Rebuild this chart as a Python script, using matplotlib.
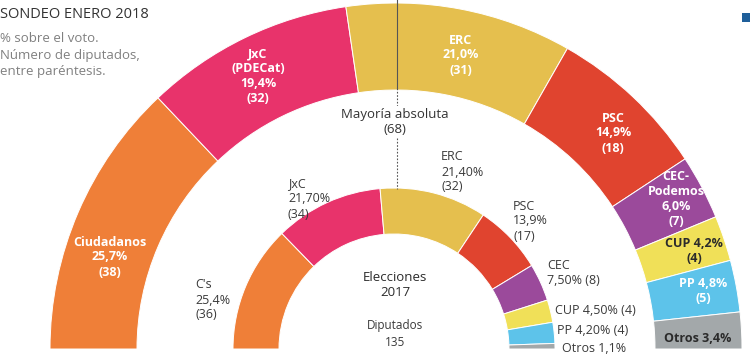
import numpy as np
import matplotlib.pyplot as plt
from matplotlib.patches import Wedge, Rectangle

plt.rcParams['font.family'] = ['Open Sans', 'DejaVu Sans']

# Sondeo enero 2018 (outer ring)
sondeo_partidos = ['Ciudadanos', 'JxC\n(PDECat)', 'ERC', 'PSC', 'CEC-\nPodemos', 'CUP', 'PP', 'Otros']
sondeo_voto = [25.7, 19.4, 21.0, 14.9, 6.0, 4.2, 4.8, 3.4]
sondeo_escanos = [38, 32, 31, 18, 7, 4, 5, None]

# Elecciones 2017 (inner ring)
elec_partidos = ["C's", 'JxC', 'ERC', 'PSC', 'CEC', 'CUP', 'PP', 'Otros']
elec_voto = [25.4, 21.70, 21.40, 13.9, 7.50, 4.50, 4.20, 1.1]
elec_voto_txt = ['25,4%', '21,70%', '21,40%', '13,9%', '7,50%', '4,50%', '4,20%', '1,1%']
elec_escanos = [36, 34, 32, 17, 8, 4, 4, None]

colores = ['#EF7F38', '#E8336B', '#E5BF4E', '#E0442F', '#9B4A9B', '#F0E058', '#5DC3EA', '#A3A8AA']
mayoria = 68
total_diputados = 135

W, H = 755, 356
fig = plt.figure(figsize=(W / 100, H / 100), dpi=100)
ax = fig.add_axes([0, 0, 1, 1])
ax.set_xlim(0, W)
ax.set_ylim(0, H)
ax.axis('off')

def Y(y):
    return H - y

def anillo(cx, cy, r, ancho, valores):
    total = sum(valores)
    acum = 0
    for v, c in zip(valores, colores):
        t2 = 180 - acum / total * 180
        acum += v
        t1 = 180 - acum / total * 180
        ax.add_patch(Wedge((cx, cy), r, t1, t2, width=ancho, facecolor=c,
                           edgecolor='white', linewidth=0.7))

anillo(396, Y(349), 346, 87, sondeo_voto)
anillo(394, Y(349), 161, 46, elec_voto)

# mayoria absoluta line
ax.plot([397, 397], [Y(0), Y(88)], color='#555555', lw=0.8)
ax.plot([397, 397], [Y(88), Y(189)], color='#555555', lw=0.8, ls=(0, (1.5, 1.5)))
ax.text(395, Y(122), f'Mayoría absoluta\n({mayoria})', ha='center', va='center',
        fontsize=9.5, color='#333333', linespacing=1.25,
        bbox=dict(facecolor='white', edgecolor='none', pad=1))

def fmt(v):
    return f'{v:.1f}'.replace('.', ',') + '%'

# outer labels
pos_ext = [(110, 257), (258, 76), (461, 55), (613, 133), (676, 199), (694, 251), (703, 291), (698, 338)]
for i, (nombre, v, e) in enumerate(zip(sondeo_partidos, sondeo_voto, sondeo_escanos)):
    x, y = pos_ext[i]
    col = 'white'
    if nombre in ('CUP', 'PP', 'Otros'):
        txt = f'{nombre} {fmt(v)}'
        if e is not None:
            txt += f'\n({e})'
        if nombre != 'PP':
            col = '#2b2b2b'
    else:
        txt = f'{nombre}\n{fmt(v)}\n({e})'
    ax.text(x, Y(y), txt, ha='center', va='center', fontsize=9, fontweight='bold',
            color=col, linespacing=1.2)

# inner labels
pos_int = [(195, 300), (288, 199), (441, 172), (513, 221), (547, 273), (555, 311), (557, 331), (562, 348)]
for i, (nombre, vt, e) in enumerate(zip(elec_partidos, elec_voto_txt, elec_escanos)):
    x, y = pos_int[i]
    if i <= 3:
        txt = f'{nombre}\n{vt}\n({e})'
    elif nombre == 'CEC':
        txt = f'{nombre}\n{vt} ({e})'
    elif e is not None:
        txt = f'{nombre} {vt} ({e})'
    else:
        txt = f'{nombre} {vt}'
    ax.text(x, Y(y), txt, ha='left', va='center', fontsize=9, color='#3a3a3a',
            linespacing=1.2)

ax.text(395, Y(285), 'Elecciones\n2017', ha='center', va='center', fontsize=9.5,
        color='#2b2b2b', linespacing=1.2)
ax.text(395, Y(334), f'Diputados\n{total_diputados}', ha='center', va='center', fontsize=8.5,
        color='#3a3a3a', linespacing=1.3)

# title block
ax.text(0, Y(15), 'SONDEO ENERO 2018', ha='left', va='center', fontsize=10.5, color='#333333')
ax.text(0, Y(55), '% sobre el voto.\nNúmero de diputados,\nentre paréntesis.', ha='left',
        va='center', fontsize=9.5, color='#808080', linespacing=1.35)
ax.add_patch(Rectangle((742, Y(22)), 8, 9, facecolor='#1f5f9a', edgecolor='none'))

fig.savefig('out.png', dpi=100)
